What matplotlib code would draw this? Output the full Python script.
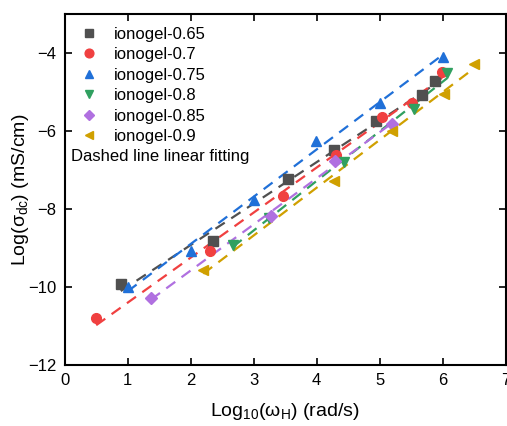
import numpy as np
import matplotlib
matplotlib.use('Agg')
import matplotlib.pyplot as plt

plt.rcParams['font.family'] = ['Liberation Sans', 'DejaVu Sans']
plt.rcParams['mathtext.fontset'] = 'custom'
plt.rcParams['mathtext.rm'] = 'Liberation Sans'
plt.rcParams['mathtext.it'] = 'Liberation Sans'

labels = ['ionogel-0.65', 'ionogel-0.7', 'ionogel-0.75', 'ionogel-0.8', 'ionogel-0.85', 'ionogel-0.9']
colors = ['#505050', '#f04040', '#2070d8', '#30a060', '#b070e0', '#d0a000']
markers = ['s', 'o', '^', 'v', 'D', '<']

# Log10(wH), Log(sigma_dc)
x065 = [0.89, 2.35, 3.55, 4.28, 4.94, 5.67, 5.88]
y065 = [-9.93, -8.83, -7.24, -6.50, -5.75, -5.09, -4.71]
x07 = [0.50, 2.31, 3.46, 4.30, 5.03, 5.51, 5.99]
y07 = [-10.80, -9.08, -7.67, -6.62, -5.65, -5.27, -4.50]
x075 = [1.00, 2.00, 3.00, 3.99, 5.00, 6.00]
y075 = [-10.01, -9.08, -7.76, -6.25, -5.27, -4.11]
x08 = [2.67, 3.25, 4.43, 5.54, 6.07]
y08 = [-8.93, -8.22, -6.80, -5.43, -4.52]
x085 = [1.37, 3.27, 4.29, 5.20]
y085 = [-10.29, -8.19, -6.76, -5.82]
x09 = [2.20, 4.28, 5.19, 6.02, 6.49]
y09 = [-9.57, -7.27, -5.99, -5.04, -4.27]

xs = [x065, x07, x075, x08, x085, x09]
ys = [y065, y07, y075, y08, y085, y09]

fig = plt.figure(figsize=(5.07, 4.26), dpi=100)
ax = fig.add_axes([0.1276, 0.1432, 0.870, 0.824])

for xv, yv, c, m, lab in zip(xs, ys, colors, markers, labels):
    xv = np.array(xv)
    yv = np.array(yv)
    ms = 6 if m == 'D' else 7
    ax.plot(xv, yv, ls='none', marker=m, color=c, ms=ms, label=lab, zorder=3)
    k, b = np.polyfit(xv, yv, 1)
    xx = np.array([xv.min(), xv.max()])
    ax.plot(xx, k*xx + b, ls=(0, (5, 3.5)), color=c, lw=1.6, zorder=2)

ax.set_xlim(0, 7)
ax.set_ylim(-12, -3)
ax.set_xticks(range(0, 8))
ax.set_yticks([-12, -10, -8, -6, -4])
ax.tick_params(direction='in', top=True, right=True, length=5, width=1.2,
               labelsize=12, pad=6)
ax.tick_params(axis='x', labeltop=False)
for s in ax.spines.values():
    s.set_linewidth(1.5)

ax.set_xlabel(r'Log$_{10}$($\omega_{\rm H}$) (rad/s)', fontsize=14, labelpad=9)
ax.set_ylabel(r'Log($\sigma_{\rm dc}$) (mS/cm)', fontsize=14, labelpad=-2)

ax.legend(loc='upper left', frameon=False, fontsize=12, handletextpad=0.9,
          labelspacing=0.33, borderaxespad=0.3, bbox_to_anchor=(0.006, 0.997),
          handlelength=1.2, markerscale=0.9)
ax.text(0.014, 0.595, 'Dashed line linear fitting', transform=ax.transAxes,
        fontsize=12, va='center', ha='left')

fig.savefig('out.png', dpi=100)
